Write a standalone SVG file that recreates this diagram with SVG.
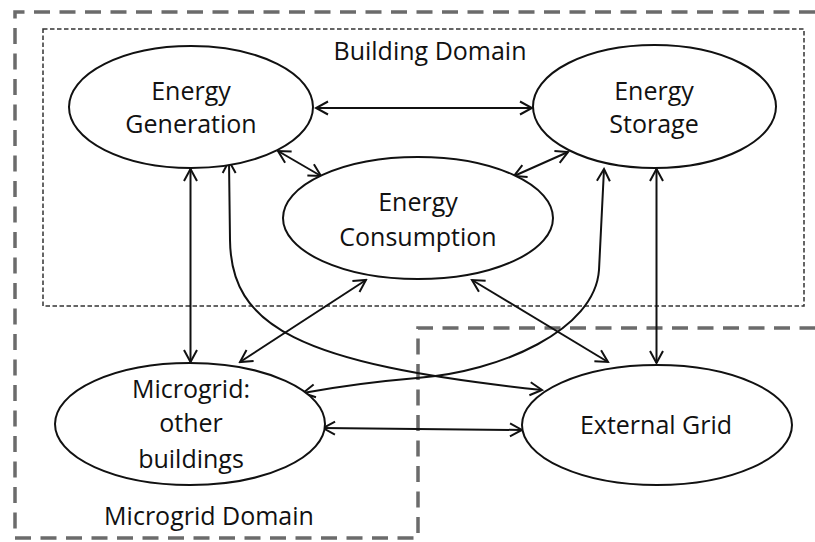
<svg xmlns="http://www.w3.org/2000/svg" width="815" height="542" viewBox="0 0 815 542">
<defs>
<style>
.node ellipse{fill:#fff;stroke:#111;stroke-width:2}
text{font-family:"Open Sans","Liberation Sans",sans-serif;font-size:25px;fill:#111;text-anchor:middle}
.conn path,.conn line{fill:none;stroke:#111;stroke-width:2;marker-start:url(#ah);marker-end:url(#ah)}
.outer{fill:none;stroke:#6b6b6b;stroke-width:3.5;stroke-dasharray:16 9.5}
.inner{fill:none;stroke:#333;stroke-width:1.5;stroke-dasharray:4.5 2.5}
</style>
<marker id="ah" viewBox="-14 -8 16 16" refX="0" refY="0" markerWidth="16" markerHeight="16" markerUnits="userSpaceOnUse" orient="auto-start-reverse">
<path d="M-12,-6.5 L0,0 L-12,6.5" fill="none" stroke="#111" stroke-width="2"/>
</marker>
</defs>
<rect width="815" height="542" fill="#fff"/>
<g id="domains">
<path class="outer" d="M815,12 L15,12 L15,538 L418,538 L418,328 L815,328"/>
<rect class="inner" x="43" y="29" width="761" height="277"/>
<text x="430" y="60">Building Domain</text>
<text x="209" y="525">Microgrid Domain</text>
</g>
<g class="conn" id="connectors">
<line x1="316" y1="108" x2="532" y2="108"/>
<line x1="278" y1="151" x2="321" y2="176"/>
<line x1="568" y1="152" x2="514" y2="176"/>
<line x1="190.5" y1="169" x2="190.5" y2="362"/>
<path d="M229,161 L230,240 C231,325 295,364 542,390"/>
<path d="M604,169 L599,270 C595,330 500,372 417,378 C370,382 330,388 303,393"/>
<line x1="366" y1="280" x2="240" y2="362"/>
<line x1="472" y1="280" x2="608" y2="362"/>
<line x1="656.5" y1="169" x2="656.5" y2="363"/>
<line x1="323" y1="428" x2="522" y2="430"/>
</g>
<g class="node" id="energy-generation">
<ellipse cx="191" cy="107" rx="122" ry="61"/>
<text x="191" y="100">Energy</text>
<text x="191" y="133">Generation</text>
</g>
<g class="node" id="energy-storage">
<ellipse cx="654.5" cy="106.5" rx="121.5" ry="61.5"/>
<text x="654" y="100">Energy</text>
<text x="654" y="133">Storage</text>
</g>
<g class="node" id="energy-consumption">
<ellipse cx="418" cy="218" rx="135" ry="61"/>
<text x="418" y="211">Energy</text>
<text x="418" y="246">Consumption</text>
</g>
<g class="node" id="microgrid">
<ellipse cx="190" cy="424" rx="135" ry="61"/>
<text x="191" y="398">Microgrid:</text>
<text x="191" y="432">other</text>
<text x="191" y="468">buildings</text>
</g>
<g class="node" id="external-grid">
<ellipse cx="657" cy="425" rx="135" ry="60"/>
<text x="656" y="434">External Grid</text>
</g>
</svg>
